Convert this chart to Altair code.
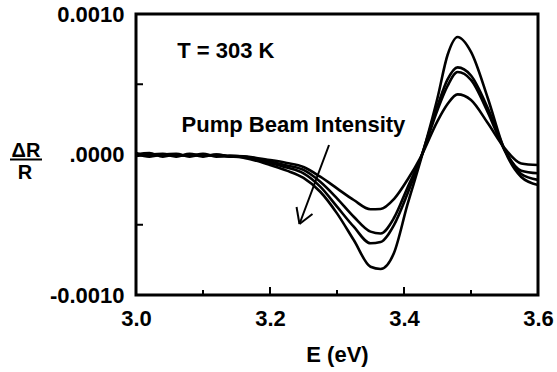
import altair as alt
import pandas as pd

# Photon energy (eV)
E = [3.00, 3.02, 3.04, 3.06, 3.08, 3.10, 3.12, 3.14, 3.16, 3.18, 3.20, 3.225, 3.25,
     3.275, 3.30, 3.325, 3.35, 3.365, 3.385, 3.405, 3.425, 3.45, 3.465, 3.48, 3.50,
     3.525, 3.55, 3.575, 3.60]

# dR/R in units of 1e-3, four pump beam intensities (lowest to highest)
c1 = [0.01, -0.01, 0.0, -0.015, 0.005, -0.01, 0.0, -0.01, -0.012, -0.025, -0.039, -0.060, -0.089,
      -0.158, -0.241, -0.324, -0.390, -0.388, -0.317, -0.181, -0.018, 0.238, 0.359, 0.428, 0.388,
      0.224, 0.046, -0.064, -0.075]
c2 = [0.0, 0.01, -0.015, 0.0, -0.01, 0.005, -0.015, -0.01, -0.015, -0.03, -0.050, -0.078, -0.110,
      -0.194, -0.312, -0.443, -0.549, -0.562, -0.452, -0.238, -0.025, 0.317, 0.488, 0.587, 0.531,
      0.302, 0.032, -0.115, -0.134]
c3 = [-0.01, 0.0, 0.005, -0.01, 0.0, -0.015, 0.0, -0.015, -0.018, -0.035, -0.060, -0.093, -0.134,
      -0.229, -0.371, -0.514, -0.632, -0.623, -0.502, -0.281, -0.025, 0.345, 0.534, 0.620, 0.562,
      0.331, 0.039, -0.139, -0.181]
c4 = [0.005, -0.015, 0.0, 0.005, -0.015, 0.0, -0.01, -0.015, -0.022, -0.045, -0.075, -0.115, -0.167,
      -0.265, -0.419, -0.609, -0.799, -0.815, -0.701, -0.359, -0.039, 0.402, 0.708, 0.836, 0.730,
      0.402, 0.032, -0.160, -0.217]
SCALE = 1e-3

x_ticks_labeled = [3.0, 3.2, 3.4, 3.6]
x_major_ticks = [3.2, 3.4]
x_minor_ticks = [3.1, 3.3, 3.5]
y_labeled = [-0.001, 0.0, 0.001]
y_minor_ticks = [-0.0005, 0.0005]

# annotations (data coordinates)
ann_text = ["T = 303 K", "Pump Beam Intensity"]
ann_E = [3.134, 3.235]
ann_y = [0.000687, 0.000160]

# arrow segments: shaft + two barbs
arr_E = [3.2881, 3.2396, 3.2634]
arr_y = [0.0000676, -0.0003737, -0.0004235]
arr_E2 = [3.2440, 3.2440, 3.2440]
arr_y2 = [-0.0004947, -0.0004947, -0.0004947]

rows = []
for name, vals in [("1", c1), ("2", c2), ("3", c3), ("4", c4)]:
    for e, v in zip(E, vals):
        rows.append({"E": e, "dR": v * SCALE, "series": name})
df = pd.DataFrame(rows)

W, H = 402, 281
FONT = "Liberation Sans"
FS = 22

x_scale = alt.Scale(domain=[3.0, 3.6], nice=False, zero=False)
y_scale = alt.Scale(domain=[-0.001, 0.001], nice=False, zero=False)

x_axis = alt.Axis(values=x_ticks_labeled, format=".1f", title="E (eV)", ticks=False,
                  domain=False, grid=False, labelFont=FONT, labelFontSize=FS,
                  labelFontWeight="bold", labelColor="black", labelPadding=13,
                  titleFont=FONT, titleFontSize=FS, titleFontWeight="bold",
                  titleColor="black", titlePadding=15, labelFlush=False)
y_axis = alt.Axis(values=y_labeled,
                  labelExpr="datum.value > 0.0000001 ? '0.0010' : (datum.value < -0.0000001 ? '-0.0010' : '.0000')",
                  title=None, ticks=False, domain=False, grid=False, labelFont=FONT,
                  labelFontSize=FS, labelFontWeight="bold", labelColor="black",
                  labelPadding=12, labelFlush=False)


def X(field="E"):
    return alt.X(f"{field}:Q", scale=x_scale, axis=x_axis)


def Y(field="dR"):
    return alt.Y(f"{field}:Q", scale=y_scale, axis=y_axis)


lines = alt.Chart(df).mark_line(color="black", strokeWidth=2.6, interpolate="monotone",
                                clip=True).encode(x=X(), y=Y(), detail="series:N")

xmaj = alt.Chart(pd.DataFrame({"E": x_major_ticks})).mark_rule(color="black", strokeWidth=2).encode(
    x=X(), y=alt.value(H), y2=alt.value(H - 8))
xmin = alt.Chart(pd.DataFrame({"E": x_minor_ticks})).mark_rule(color="black", strokeWidth=2).encode(
    x=X(), y=alt.value(H), y2=alt.value(H - 5))
ytk = alt.Chart(pd.DataFrame({"dR": y_minor_ticks})).mark_rule(color="black", strokeWidth=2).encode(
    y=Y(), x=alt.value(0), x2=alt.value(7))

ann = alt.Chart(pd.DataFrame({"E": ann_E, "dR": ann_y, "t": ann_text})).mark_text(
    font=FONT, fontSize=FS, fontWeight="bold", color="black", align="center",
    baseline="alphabetic").encode(x=X(), y=Y(), text="t:N")

arrow = alt.Chart(pd.DataFrame({"E": arr_E, "dR": arr_y, "E2": arr_E2, "dR2": arr_y2})).mark_rule(
    color="black", strokeWidth=2).encode(x=X(), y=Y(), x2="E2:Q", y2="dR2:Q")

ytitle_top = alt.Chart(pd.DataFrame({"t": ["ΔR"]})).mark_text(
    font=FONT, fontSize=20, fontWeight="bold", color="black", align="center",
    baseline="alphabetic").encode(x=alt.value(-110), y=alt.value(143), text="t:N")
ytitle_bot = alt.Chart(pd.DataFrame({"t": ["R"]})).mark_text(
    font=FONT, fontSize=20, fontWeight="bold", color="black", align="center",
    baseline="top").encode(x=alt.value(-111), y=alt.value(148.5), text="t:N")
frac = alt.Chart(pd.DataFrame({"t": ["line"]})).mark_rule(color="black", strokeWidth=2).encode(
    x=alt.value(-126), x2=alt.value(-94), y=alt.value(145.5))

chart = alt.layer(lines, xmaj, xmin, ytk, ann, arrow, ytitle_top, ytitle_bot, frac).properties(
    width=W, height=H,
    autosize=alt.AutoSizeParams(type="none"),
    padding={"left": 136, "top": 14, "right": 19, "bottom": 77},
    background="white",
).configure_view(stroke="black", strokeWidth=3)

chart.save("out.html", embed_options={"renderer": "svg", "actions": False})
